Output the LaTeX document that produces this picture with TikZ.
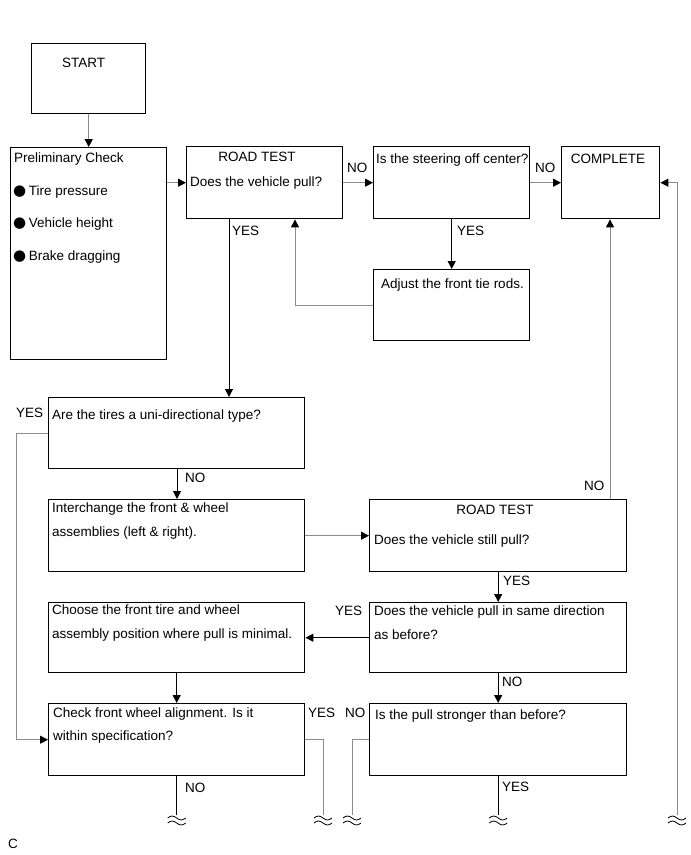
\documentclass[tikz,border=0pt]{standalone}
\usepackage{fontspec}
\setmainfont{Liberation Sans}
\newfontfamily\dejavu{DejaVu Sans}
\usetikzlibrary{arrows.meta}
\definecolor{lg}{HTML}{8C8C8C}
\newcommand\blt{{\dejavu\fontsize{15}{15}\selectfont ●}\hspace{2.5pt}}
\begin{document}
\begin{tikzpicture}[x=1pt,y=-1pt,
  box/.style={draw, line width=1.4pt, inner sep=0pt, anchor=north west},
  txt/.style={inner sep=0pt, anchor=base west, font=\fontsize{13.5}{16}\selectfont},
  ctxt/.style={txt, anchor=base},
  ln/.style={line width=1pt, -{Triangle[length=8pt,width=8pt,color=black]}},
  gln/.style={ln, draw=lg},
  pln/.style={line width=1pt},
  gpln/.style={pln, draw=lg},
  brk/.pic={\draw[line width=0.8pt] (-9,3) sin (-4.5,1) cos (0,3) sin (4.5,5) cos (9,3)
     (-9,8) sin (-4.5,6) cos (0,8) sin (4.5,10) cos (9,8);}
]
\useasboundingbox (0,0) rectangle (691,855);
% boxes
\node[box, minimum width=114pt, minimum height=70pt] (start) at (31,43) {};
\node[box, minimum width=156pt, minimum height=212pt] (prelim) at (10,147) {};
\node[box, minimum width=156pt, minimum height=72pt] (rt1) at (186,146) {};
\node[box, minimum width=156pt, minimum height=72pt] (steer) at (373,146) {};
\node[box, minimum width=98pt, minimum height=72pt] (complete) at (561,146) {};
\node[box, minimum width=156pt, minimum height=71pt] (adjust) at (373,269) {};
\node[box, minimum width=256pt, minimum height=71pt] (uni) at (48,397) {};
\node[box, minimum width=256pt, minimum height=72pt] (inter) at (48,499) {};
\node[box, minimum width=257pt, minimum height=72pt] (rt2) at (369,499) {};
\node[box, minimum width=256pt, minimum height=70pt] (choose) at (48,602) {};
\node[box, minimum width=257pt, minimum height=70pt] (same) at (369,602) {};
\node[box, minimum width=256pt, minimum height=72pt] (check) at (48,703) {};
\node[box, minimum width=257pt, minimum height=72pt] (pull) at (369,703) {};
% texts
\node[txt] (tstart) at (62,67) {START};
\node[txt] (tpre) at (14,162) {Preliminary Check};
\node[txt] (tb1) at (13,195) {\blt Tire pressure};
\node[txt] (tb2) at (13,227) {\blt Vehicle height};
\node[txt] (tb3) at (13,260) {\blt Brake dragging};
\node[ctxt] (trt1a) at (257,161) {ROAD TEST};
\node[txt] (trt1b) at (190,186) {Does the vehicle pull?};
\node[txt] (tsteer) at (376,163) {Is the steering off center?};
\node[ctxt] (tcomp) at (608,163) {COMPLETE};
\node[txt] (tno1) at (347,172) {NO};
\node[txt] (tno2) at (535,172) {NO};
\node[txt] (tyes1) at (232,235) {YES};
\node[txt] (tyes2) at (457,235) {YES};
\node[txt] (tadj) at (381,288) {Adjust the front tie rods.};
\node[txt] (tyes3) at (16,417) {YES};
\node[txt] (tuni) at (52,419) {Are the tires a uni-directional type?};
\node[txt] (tno3) at (185,482) {NO};
\node[txt] (tint1) at (52,512) {Interchange the front \& wheel};
\node[txt] (tint2) at (52,536) {assemblies (left \& right).};
\node[txt] (tno4) at (584,490) {NO};
\node[ctxt] (trt2a) at (495,514) {ROAD TEST};
\node[txt] (trt2b) at (374,544) {Does the vehicle still pull?};
\node[txt] (tyes4) at (503,585) {YES};
\node[txt] (tyes5) at (335,615) {YES};
\node[txt] (tsame1) at (374,615) {Does the vehicle pull in same direction};
\node[txt] (tsame2) at (374,639) {as before?};
\node[txt] (tch1) at (52,614) {Choose the front tire and wheel};
\node[txt] (tch2) at (52,638) {assembly position where pull is minimal.};
\node[txt] (tno5) at (502,686) {NO};
\node[txt] (tchk1) at (53,717) {Check front wheel alignment. Is it};
\node[txt] (tchk2) at (53,740) {within specification?};
\node[txt] (tyes6) at (308,717) {YES};
\node[txt] (tno6) at (345,717) {NO};
\node[txt] (tpull) at (375,719) {Is the pull stronger than before?};
\node[txt] (tno7) at (185,792) {NO};
\node[txt] (tyes7) at (502,791) {YES};
\node[txt] (tc) at (8,848) {C};
% break ends
\coordinate (bk1) at (check.south |- 0,815);
\coordinate (bk2) at (323,815);
\coordinate (bk3) at (352,815);
\coordinate (bk4) at (pull.south |- 0,815);
\coordinate (bk5) at (677,815);
\foreach \b in {bk1,bk2,bk3,bk4,bk5} \pic at (\b) {brk};
% connectors
\draw[gln] (start.south) -- (prelim.north);
\draw[gln] (prelim.east |- rt1.west) -- (rt1.west);
\draw[gln] (rt1.east) -- (steer.west);
\draw[gln] (steer.east) -- (complete.west);
\draw[gln] (bk5) -- (bk5 |- complete.east) -- (complete.east);
\draw[ln] (steer.south) -- (adjust.north);
\draw[gln] (adjust.west) -| (295,0 |- rt1.south);
\draw[ln] (229,0 |- rt1.south) -- (229,0 |- uni.north);
\draw[gln] (uni.west) -| (16,0 |- check.west) -- (check.west);
\draw[ln] (177,0 |- uni.south) -- (177,0 |- inter.north);
\draw[gln] (inter.east) -- (rt2.west);
\draw[gln] (610,0 |- rt2.north) -- (610,0 |- complete.south);
\draw[ln] (rt2.south) -- (same.north);
\draw[ln] (same.west) -- (same.west -| choose.east);
\draw[ln] (choose.south) -- (check.north);
\draw[ln] (same.south) -- (pull.north);
\draw[pln] (check.south) -- (bk1);
\draw[gpln] (check.east) -| (bk2);
\draw[gpln] (pull.west) -| (bk3);
\draw[pln] (pull.south) -- (bk4);
\end{tikzpicture}
\end{document}
